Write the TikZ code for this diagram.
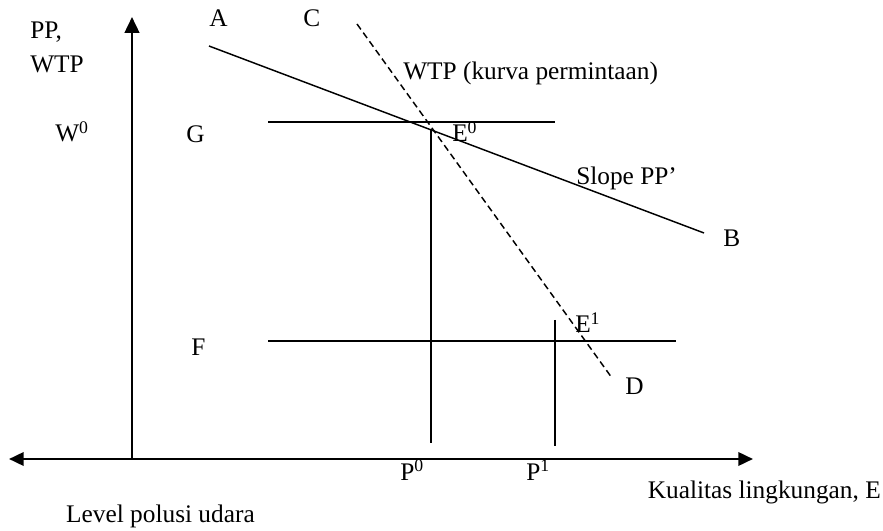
\documentclass[tikz,border=0pt]{standalone}
\usepackage{fontspec}
\setmainfont{Liberation Serif}
\usetikzlibrary{arrows.meta}

\begin{document}
\begin{tikzpicture}[x=0.75pt,y=-0.75pt,
    lbl/.style={anchor=base west,inner sep=0pt,font=\fontsize{19}{22}\selectfont},
    rlbl/.style={lbl,anchor=base east},
    axis/.style={line width=1.9pt},
    curve/.style={line width=1.1pt},
    demand/.style={line width=1.1pt,dash pattern=on 5pt off 3pt}]
  \useasboundingbox (0,0) rectangle (883,531);

  % axes
  \coordinate (yb) at (132,458);
  \coordinate (yt) at (132,17);
  \coordinate (xl) at (9,459);
  \coordinate (xr) at (753,459);
  \draw[axis,-{Triangle[length=12pt,width=11pt]}] (yb) -- (yt);
  \draw[axis,{Triangle[length=11pt,width=10pt]}-{Triangle[length=11pt,width=10pt]}] (xl) -- (xr);

  % PP' and WTP curves
  \coordinate (A0) at (209,46);
  \coordinate (B0) at (704,233);
  \coordinate (C0) at (357,24);
  \coordinate (D0) at (612,378);
  \draw[curve] (A0) -- (B0);
  \draw[demand] (C0) -- (D0);

  % levels and projections
  \draw[curve] (268,122) coordinate (g1) -- (555,122) coordinate (g2);
  \draw[curve] (268,341) coordinate (f1) -- (676,341) coordinate (f2);
  \draw[curve] (431,129) coordinate (p0t) -- (431,443) coordinate (p0b);
  \draw[curve] (555,320) coordinate (p1t) -- (555,446) coordinate (p1b);

  % labels
  \node[lbl] (lpp) at (30,39) {PP,};
  \node[lbl] (lwtp) at (30,73) {WTP};
  \node[lbl] (lA) at (209,27) {A};
  \node[lbl] (lC) at (303,27) {C};
  \node[lbl] (lkurva) at (403,80) {WTP (kurva permintaan)};
  \node[lbl] (lW) at (55,142) {W\textsuperscript{0}};
  \node[lbl] (lG) at (186,143) {G};
  \node[lbl] (lE0) at (452,142) {E\textsuperscript{0}};
  \node[lbl] (lslope) at (576,185) {Slope PP’};
  \node[lbl] (lB) at (723,247) {B};
  \node[lbl] (lE1) at (575,333) {E\textsuperscript{1}};
  \node[lbl] (lF) at (191,356) {F};
  \node[lbl] (lD) at (625,395) {D};
  \node[lbl] (lP0) at (400,480) {P\textsuperscript{0}};
  \node[lbl] (lP1) at (526,480) {P\textsuperscript{1}};
  \node[rlbl] (lE) at (881,498) {Kualitas lingkungan, E};
  \node[rlbl] (llevel) at (255,522) {Level polusi udara};
\end{tikzpicture}
\end{document}
